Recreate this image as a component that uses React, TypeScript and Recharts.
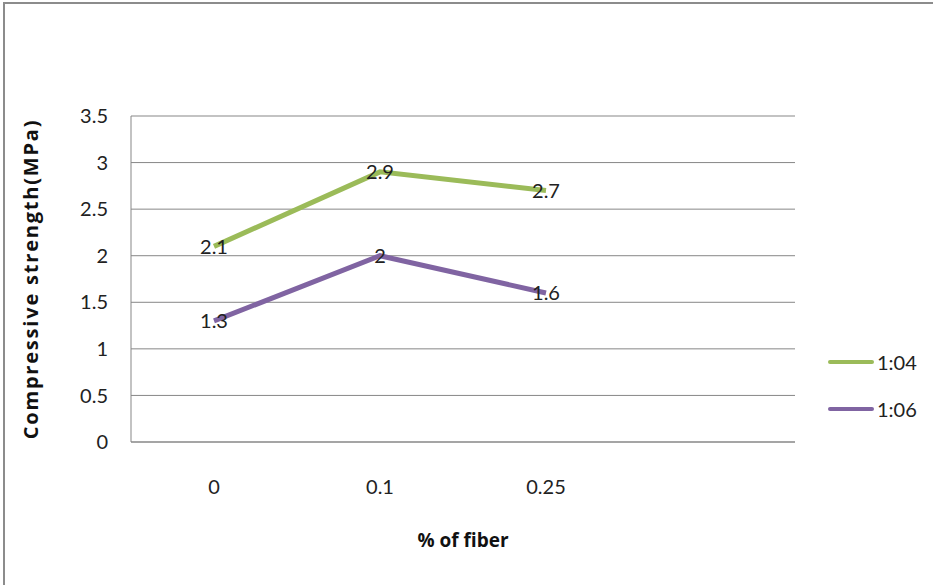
import {
  LineChart,
  Line,
  XAxis,
  YAxis,
  CartesianGrid,
  Legend,
  LabelList,
} from 'recharts';

const fiberPercent = ['0', '0.1', '0.25', ''];
const mix104 = [2.1, 2.9, 2.7, null];
const mix106 = [1.3, 2.0, 1.6, null];
const yTicks = [0, 0.5, 1, 1.5, 2, 2.5, 3, 3.5];

const series = [
  { key: 'm104', name: '1:04', color: '#9bbb59' },
  { key: 'm106', name: '1:06', color: '#8064a2' },
];

const data = fiberPercent.map((x, i) => ({ x, m104: mix104[i], m106: mix106[i] }));

const FONT = 'Lato, "Open Sans", sans-serif';
const BOLD_FONT = '"Open Sans", Lato, sans-serif';
const GRID = '#878787';

function LegendBox() {
  return (
    <div style={{ fontFamily: FONT, fontSize: 20, color: '#222' }}>
      {series.map((s) => (
        <div key={s.key} style={{ display: 'flex', alignItems: 'center', height: 47 }}>
          <span
            style={{
              display: 'inline-block',
              width: 46,
              height: 4,
              borderRadius: 2,
              background: s.color,
              marginRight: 3,
            }}
          />
          {s.name}
        </div>
      ))}
    </div>
  );
}

export default function App() {
  return (
    <div
      style={{
        position: 'absolute',
        left: 0,
        top: 0,
        width: 933,
        height: 585,
        overflow: 'hidden',
        background: '#fff',
      }}
    >
      <div
        style={{
          position: 'absolute',
          left: 3,
          top: 2,
          width: 1200,
          height: 1200,
          border: '2px solid #8c8c8c',
        }}
      />
      <LineChart
        width={933}
        height={585}
        data={data}
        margin={{ top: 116, right: 138, bottom: 0, left: 0 }}
        style={{ position: 'absolute', left: 0, top: 0 }}
      >
        <CartesianGrid vertical={false} stroke={GRID} />
        <XAxis
          dataKey="x"
          scale="band"
          height={143}
          axisLine={{ stroke: GRID }}
          tickLine={false}
          tickSize={0}
          tickMargin={38}
          tick={{ fontFamily: FONT, fontSize: 20, fill: '#222' }}
          label={{
            content: ({ viewBox }: any) => (
              <text
                x={viewBox.x + viewBox.width / 2}
                y={viewBox.y + 105}
                textAnchor="middle"
                fontFamily={BOLD_FONT}
                fontWeight="bold"
                fontSize={19}
                fill="#111"
              >
                % of fiber
              </text>
            ),
          }}
        />
        <YAxis
          width={131}
          domain={[0, 3.5]}
          ticks={yTicks}
          axisLine={{ stroke: GRID }}
          tickLine={false}
          tickSize={0}
          tickMargin={23}
          tick={{ fontFamily: FONT, fontSize: 20, fill: '#222' }}
          label={{
            content: ({ viewBox }: any) => {
              const cx = viewBox.x + 30;
              const cy = viewBox.y + viewBox.height / 2;
              return (
                <text
                  x={cx}
                  y={cy}
                  transform={`rotate(-90 ${cx} ${cy})`}
                  textAnchor="middle"
                  dominantBaseline="central"
                  fontFamily={BOLD_FONT}
                  fontWeight="bold"
                  fontSize={20}
                  letterSpacing={1.8}
                  fill="#111"
                >
                  Compressive  strength(MPa)
                </text>
              );
            },
          }}
        />
        <Legend
          layout="vertical"
          align="center"
          verticalAlign="middle"
          content={() => <LegendBox />}
          wrapperStyle={{ left: 828, top: 338, width: 100 }}
        />
        {series.map((s) => (
          <Line
            key={s.key}
            dataKey={s.key}
            name={s.name}
            stroke={s.color}
            strokeWidth={5}
            dot={false}
            activeDot={false}
            isAnimationActive={false}
          >
            <LabelList
              dataKey={s.key}
              position="center"
              fontFamily={FONT}
              fontSize={20}
              fill="#222"
            />
          </Line>
        ))}
      </LineChart>
    </div>
  );
}
